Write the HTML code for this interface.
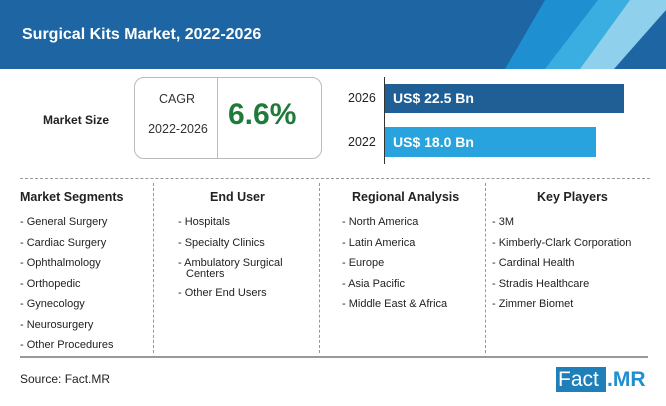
<!DOCTYPE html>
<html><head><meta charset="utf-8"><style>
body{margin:0;width:666px;height:406px;overflow:hidden;background:#fff;font-family:"Liberation Sans",sans-serif;position:relative}
.a{position:absolute;white-space:nowrap}
.it{font-size:11px;color:#222}
.h{font-size:12.5px;font-weight:bold;color:#222}
.vd{position:absolute;top:183px;height:170px;border-left:1px dashed #999}
</style></head><body>
<svg class="a" style="left:0;top:0" width="666" height="70">
<rect width="666" height="69" fill="#1d66a3"/>
<polygon points="545,0 620,0 566,69 505,69" fill="#1e8fd0"/>
<polygon points="598,0 645,0 590,69 545,69" fill="#3aaee0"/>
<polygon points="630,0 666,0 666,10 614,69 580,69" fill="#8fd0ec"/>
</svg>
<div class="a" style="left:22px;top:26px;color:#fff;font-size:16px;font-weight:bold">Surgical Kits Market, 2022-2026</div>
<div class="a" style="left:43px;top:113px;font-size:12px;font-weight:bold;color:#222">Market Size</div>
<div class="a" style="left:134px;top:77px;width:186px;height:80px;border:1px solid #bbb;border-radius:10px"></div>
<div class="a" style="left:217px;top:77px;height:81px;border-left:1px solid #bbb"></div>
<div class="a" style="left:145px;top:92px;width:64px;text-align:center;font-size:12.5px;color:#333">CAGR</div>
<div class="a" style="left:140px;top:122px;width:76px;text-align:center;font-size:12.5px;color:#333">2022-2026</div>
<div class="a" style="left:228px;top:98px;font-size:30px;font-weight:bold;color:#1f7a3c">6.6%</div>
<div class="a" style="left:384px;top:77px;height:87px;border-left:1px solid #333"></div>
<div class="a" style="left:385px;top:84px;width:239px;height:29px;background:#1f5f96"></div>
<div class="a" style="left:385px;top:127px;width:211px;height:30px;background:#29a3dd"></div>
<div class="a" style="left:348px;top:91px;font-size:12.5px;color:#222">2026</div>
<div class="a" style="left:348px;top:135px;font-size:12.5px;color:#222">2022</div>
<div class="a" style="left:393px;top:90px;font-size:14px;font-weight:bold;color:#fff">US$ 22.5 Bn</div>
<div class="a" style="left:393px;top:134px;font-size:14px;font-weight:bold;color:#fff">US$ 18.0 Bn</div>
<div class="a" style="left:20px;top:178px;width:630px;border-top:1px dashed #999"></div>
<div class="vd" style="left:153px"></div><div class="vd" style="left:319px"></div><div class="vd" style="left:485px"></div>
<div class="a h" style="left:20px;top:190px">Market Segments</div>
<div class="a h" style="left:210px;top:190px">End User</div>
<div class="a h" style="left:352px;top:190px">Regional Analysis</div>
<div class="a h" style="left:537px;top:190px">Key Players</div>
<div class="a it" style="left:20px;top:212px;line-height:20.5px">- General Surgery<br>- Cardiac Surgery<br>- Ophthalmology<br>- Orthopedic<br>- Gynecology<br>- Neurosurgery<br>- Other Procedures</div>
<div class="a it" style="left:178px;top:212px;line-height:20.5px">- Hospitals<br>- Specialty Clinics<br>- Ambulatory Surgical</div>
<div class="a it" style="left:186px;top:268px;line-height:12px">Centers</div>
<div class="a it" style="left:178px;top:287px">- Other End Users</div>
<div class="a it" style="left:342px;top:212px;line-height:20.5px">- North America<br>- Latin America<br>- Europe<br>- Asia Pacific<br>- Middle East &amp; Africa</div>
<div class="a it" style="left:492px;top:212px;line-height:20.5px">- 3M<br>- Kimberly-Clark Corporation<br>- Cardinal Health<br>- Stradis Healthcare<br>- Zimmer Biomet</div>
<div class="a" style="left:20px;top:356px;width:628px;border-top:2px solid #999"></div>
<div class="a" style="left:20px;top:372px;font-size:12px;color:#222">Source: Fact.MR</div>
<div class="a" style="left:556px;top:367px;width:50px;height:25px;background:#1f7fb8"></div>
<div class="a" style="left:558px;top:367px;font-size:21px;color:#fff;line-height:25px">Fact</div>
<div class="a" style="left:607px;top:367px;font-size:21px;font-weight:bold;color:#1f8fd0;line-height:25px">.MR</div>
</body></html>
